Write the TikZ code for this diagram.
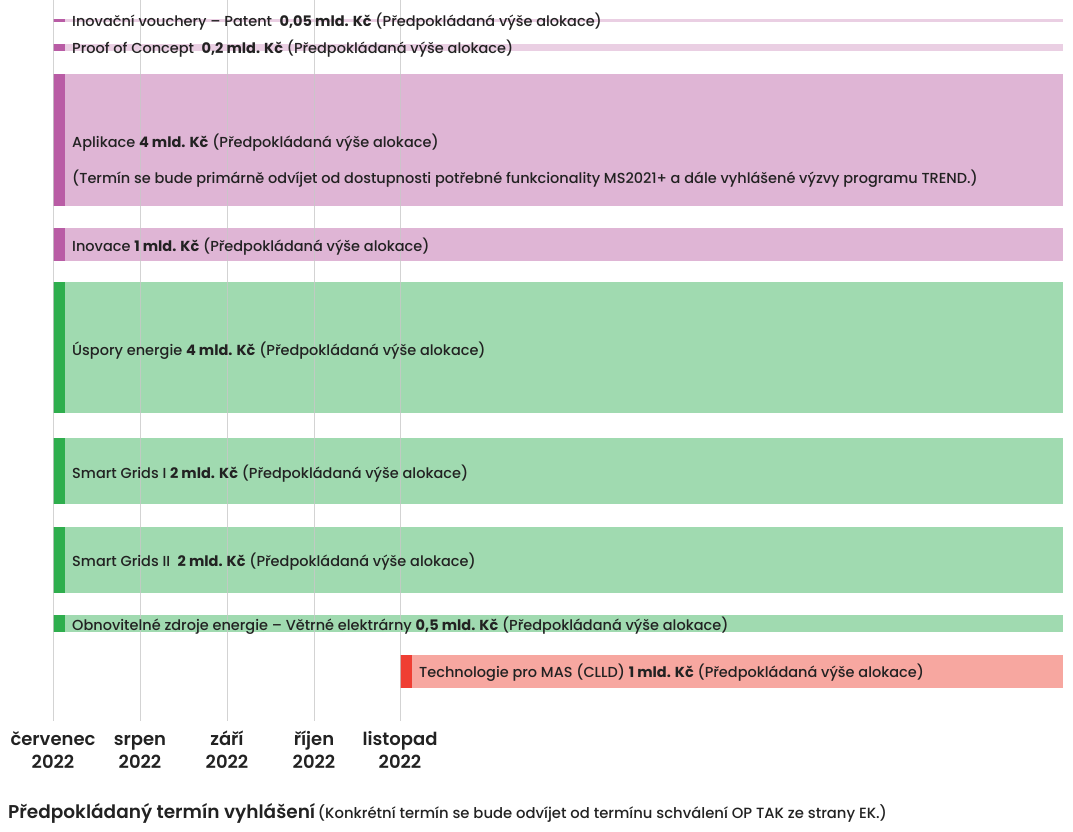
\documentclass[tikz,border=0pt]{standalone}
\usepackage{fontspec}
\setmainfont{Poppins}[UprightFont={* Medium},BoldFont={* Bold}]
\newfontfamily\semib{Poppins SemiBold}
\definecolor{pinkbar}{HTML}{DFB5D5}
\definecolor{pinklight}{HTML}{EACFE3}
\definecolor{pinkacc}{HTML}{B95CA5}
\definecolor{greenbar}{HTML}{A0DAB0}
\definecolor{greenacc}{HTML}{2EAE4D}
\definecolor{redbar}{HTML}{F7A7A0}
\definecolor{redacc}{HTML}{EF3E33}
\definecolor{gridc}{HTML}{C8C8C8}
\definecolor{txt}{HTML}{222222}
\tikzset{
  x=1pt,y=-1pt,
  lbl/.style={anchor=west,inner sep=0pt,text=txt,font=\fontsize{14.5}{17}\selectfont},
  month/.style={align=center,inner sep=0pt,text=txt,font=\semib\fontsize{18}{23}\selectfont},
  gridline/.style={draw=gridc,line width=1pt,opacity=0.8}
}
\begin{document}
\begin{tikzpicture}
\useasboundingbox (0,0) rectangle (1073,831);
% bars
\fill[pinklight] (53,19) rectangle (1063,21.5);
\fill[pinkacc] (53,19) rectangle (65,21.5);
\fill[pinklight] (53,44) rectangle (1063,51);
\fill[pinkacc] (53,44) rectangle (65,51);
\fill[pinkbar] (53,74) rectangle (1063,206);
\fill[pinkacc] (53,74) rectangle (65,206);
\fill[pinkbar] (53,228) rectangle (1063,261);
\fill[pinkacc] (53,228) rectangle (65,261);
\fill[greenbar] (53,282) rectangle (1063,413);
\fill[greenacc] (53,282) rectangle (65,413);
\fill[greenbar] (53,438) rectangle (1063,504);
\fill[greenacc] (53,438) rectangle (65,504);
\fill[greenbar] (53,527) rectangle (1063,593);
\fill[greenacc] (53,527) rectangle (65,593);
\fill[greenbar] (53,615) rectangle (1063,632);
\fill[greenacc] (53,615) rectangle (65,632);
\fill[redbar] (400,655) rectangle (1063,688);
\fill[redacc] (400,655) rectangle (412,688);
% grid
\foreach \x in {53,140,227,314,400} \draw[gridline] (\x,0) -- (\x,721);
% labels
\node[lbl] (t1) at (72,21.5) {Inovační vouchery – Patent \ \textbf{0,05 mld. Kč} (Předpokládaná výše alokace)};
\node[lbl] (t2) at (72,48.5) {Proof of Concept \ \textbf{0,2 mld. Kč} (Předpokládaná výše alokace)};
\node[lbl] (t3) at (72,143) {Aplikace \textbf{4 mld. Kč} (Předpokládaná výše alokace)};
\node[lbl] (t3b) at (72,179) {(Termín se bude primárně odvíjet od dostupnosti potřebné funkcionality MS2021+ a dále vyhlášené výzvy programu TREND.)};
\node[lbl] (t4) at (72,247) {Inovace \textbf{1 mld. Kč} (Předpokládaná výše alokace)};
\node[lbl] (t5) at (72,351) {Úspory energie \textbf{4 mld. Kč} (Předpokládaná výše alokace)};
\node[lbl] (t6) at (72,474) {Smart Grids I \textbf{2 mld. Kč} (Předpokládaná výše alokace)};
\node[lbl] (t7) at (72,562) {Smart Grids II \ \textbf{2 mld. Kč} (Předpokládaná výše alokace)};
\node[lbl] (t8) at (72,626) {Obnovitelné zdroje energie – Větrné elektrárny \textbf{0,5 mld. Kč} (Předpokládaná výše alokace)};
\node[lbl] (t9) at (419,673) {Technologie pro MAS (CLLD) \textbf{1 mld. Kč} (Předpokládaná výše alokace)};
% months
\node[month] (m1) at (53,752.5) {červenec\strut\\2022\strut};
\node[month] (m2) at (140,752.5) {srpen\strut\\2022\strut};
\node[month] (m3) at (227,752.5) {září\strut\\2022\strut};
\node[month] (m4) at (314,752.5) {říjen\strut\\2022\strut};
\node[month] (m5) at (400,752.5) {listopad\strut\\2022\strut};
% footer
\node[anchor=base west,inner sep=0pt,text=txt] (foot) at (8,818) {{\semib\fontsize{18.5}{22}\selectfont Předpokládaný termín vyhlášení} \fontsize{14.8}{17}\selectfont(Konkrétní termín se bude odvíjet od termínu schválení OP TAK ze strany EK.)};
\end{tikzpicture}
\end{document}
